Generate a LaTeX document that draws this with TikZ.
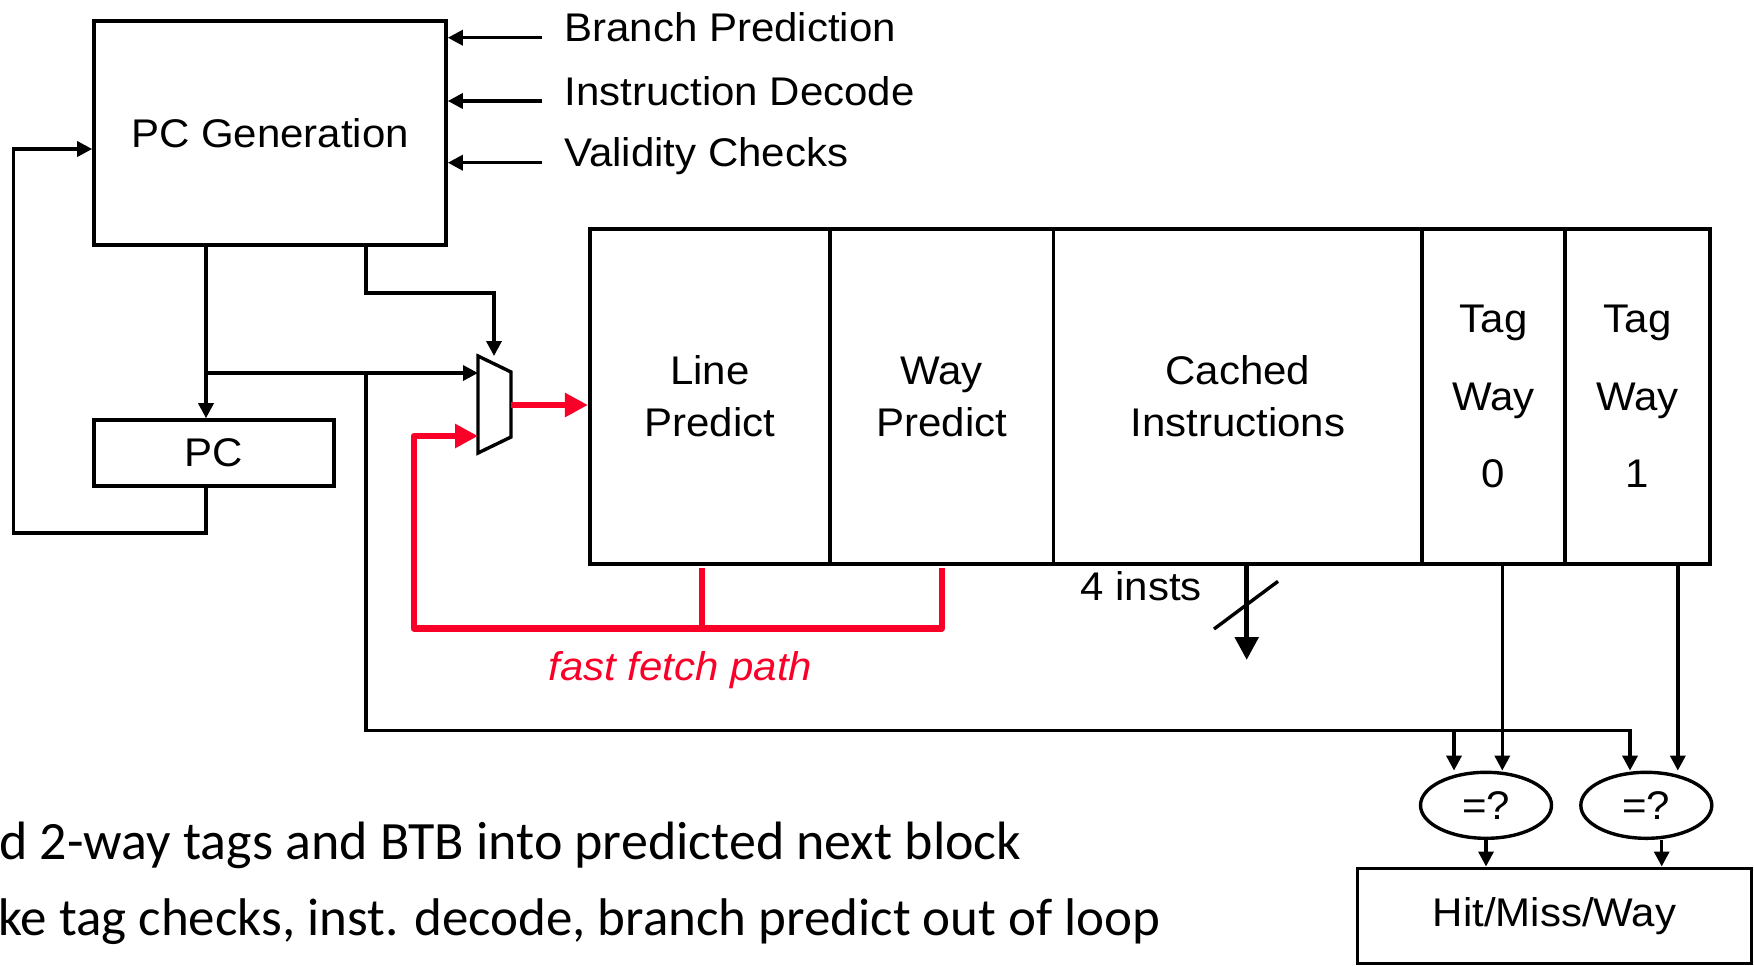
\documentclass[tikz,border=0pt]{standalone}
\usepackage{fontspec}
\setmainfont{Liberation Sans}[FakeStretch=1.05]
\newfontfamily\notefont{Carlito}
\usetikzlibrary{arrows.meta,shapes.geometric}
\definecolor{fastred}{RGB}{250,0,40}

\begin{document}
\begin{tikzpicture}[x=0.5pt,y=-0.5pt,
  font=\fontsize{20}{26}\selectfont,
  box/.style={draw,line width=1.8pt,inner sep=0pt,align=center},
  cell/.style={box,minimum height=167.5pt},
  tagcell/.style={cell,font=\fontsize{20}{38.75}\selectfont},
  cmp/.style={draw,ellipse,line width=1.7pt,inner sep=0pt,minimum width=65.5pt,minimum height=33pt},
  wire/.style={line width=1.7pt},
  arr/.style={wire,-{Triangle[length=7.5pt,width=7.5pt]}},
  fast/.style={draw=fastred,line width=3.2pt,line join=round},
  fastarr/.style={fast,-{Triangle[length=11.5pt,width=11.5pt]}},
  bigarr/.style={line width=2.7pt,-{Triangle[length=11.5pt,width=11.5pt]}},
  lbl/.style={inner sep=0pt,anchor=base west},
  note/.style={lbl,font=\notefont\fontsize{#1}{30}\selectfont}]
\useasboundingbox (0,0) rectangle (1754,965);

% ---- blocks ----
\node[box,minimum width=176pt,minimum height=112pt] (pcgen) at (270,133) {PC Generation};
\node[box,minimum width=120pt,minimum height=33pt] (pc) at (214,453) {PC};

\node[cell,minimum width=120.15pt] (lp) at (709.85,396.5) {Line\\Predict};
\node[cell,minimum width=111.75pt] (wp) at (941.75,396.5) {Way\\Predict};
\node[cell,minimum width=184.25pt] (ci) at (1237.75,396.5) {Cached\\Instructions};
\node[tagcell,minimum width=71.5pt] (t0) at (1493.5,396.5) {Tag\\Way\\0};
\node[tagcell,minimum width=72.5pt] (t1) at (1637.5,396.5) {Tag\\Way\\1};

\node[cmp] (eq0) at (1486,805.3) {=?};
\node[cmp] (eq1) at (1646.3,805.3) {=?};
\node[box,minimum width=196.95pt,minimum height=47.6pt] (hmw) at (1554.5,915.9) {Hit/Miss/Way};

% ---- input labels ----
\node[lbl] (bp) at (564,41.7) {Branch Prediction};
\node[lbl] (id) at (564,105) {Instruction Decode};
\node[lbl] (vc) at (564,166.7) {Validity Checks};
\coordinate (bpin) at ([shift={(-22,-4)}]bp.base west);
\coordinate (idin) at ([shift={(-22,-4)}]id.base west);
\coordinate (vcin) at ([shift={(-22,-4)}]vc.base west);
\draw[arr] (bpin) -- (bpin -| pcgen.east);
\draw[arr] (idin) -- (idin -| pcgen.east);
\draw[arr] (vcin) -- (vcin -| pcgen.east);

% ---- next-PC mux ----
\coordinate (m1) at (478,356);
\coordinate (m2) at (511,372);
\coordinate (m3) at (511,437);
\coordinate (m4) at (478,453);
\coordinate (mout) at (511,405);
\coordinate (min2) at (478,436);
\draw[wire,line join=miter] (m1) -- (m2) -- (m3) -- (m4) -- cycle;

% ---- PC path ----
\coordinate (spine) at (206,373);
\coordinate (loopb) at (13.3,533);
\coordinate (fbin) at (13.3,149);
\draw[arr] (spine |- pcgen.south) -- (spine |- pc.north);
\draw[arr] (spine |- pc.south) -- (spine |- loopb) -- (loopb) -- (fbin) -- (fbin -| pcgen.west);
\draw[arr] (spine) -- (spine -| m1);

\coordinate (seltap) at (366,293);
\coordinate (selx) at (494,293);
\draw[arr] (seltap |- pcgen.south) -- (seltap) -- (selx) -- (selx |- m1);

% PC bus to the tag comparators
\coordinate (tap) at (366,373);
\coordinate (bus) at (366,730.5);
\coordinate (busend) at (1630,730.5);
\coordinate (busbr) at (1454,730.5);
\draw[arr] (tap) -- (bus) -- (busend) -- (busend |- eq1.north);
\draw[arr] (busbr) -- (busbr |- eq0.north);

% ---- fast fetch path ----
\coordinate (lpx) at (702,628.3);
\coordinate (wpx) at (941.8,628.3);
\coordinate (ffl) at (413.7,628.3);
\draw[fastarr] (mout) -- (mout -| lp.west);
\draw[fast,shorten <=0.9pt] (lpx |- lp.south) -- (lpx);
\draw[fastarr,shorten <=0.9pt] (wpx |- wp.south) -- (wpx) -- (ffl) -- (ffl |- min2) -- (min2);
\node[lbl,text=fastred,font=\fontsize{20}{24}\selectfont\itshape] (ffp) at (548,680) {fast fetch path};

% ---- instruction output ----
\coordinate (ix) at (1246.7,660);
\draw[bigarr] (ix |- ci.south) -- (ix);
\coordinate (sl1) at (1214,629);
\coordinate (sl2) at (1278,581.3);
\draw[wire] (sl1) -- (sl2);
\node[lbl] (four) at (1080,600) {4 insts};

% ---- tag compare ----
\coordinate (t0x) at (1502.3,0);
\coordinate (t1x) at (1677.8,0);
\coordinate (e1x) at (1661.7,0);
\draw[arr] (t0x |- t0.south) -- (t0x |- eq0.north);
\draw[arr] (t1x |- t1.south) -- (t1x |- eq1.north);
\draw[arr] (eq0.south) -- (eq0.south |- hmw.north);
\draw[arr] (e1x |- eq1.south) -- (e1x |- hmw.north);

% ---- slide notes ----
\node[note=27] (n1) at (-1,859.3) {d 2-way tags and BTB into predicted next block};
\node[note=26.5] (n2) at (-2,935) {ke tag checks, inst. decode, branch predict out of loop};
\end{tikzpicture}
\end{document}
